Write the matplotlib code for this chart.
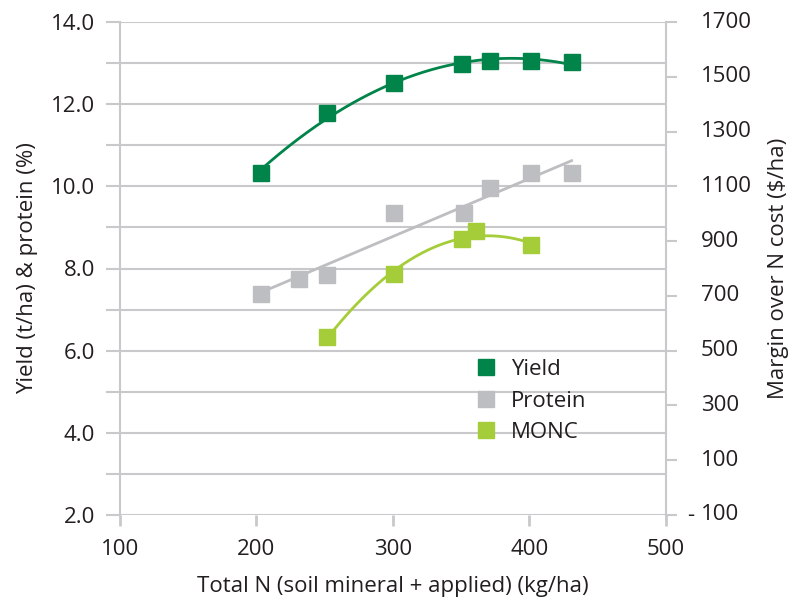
import numpy as np
import matplotlib
matplotlib.use("Agg")
import matplotlib.pyplot as plt
from matplotlib.lines import Line2D
from matplotlib.transforms import blended_transform_factory, ScaledTranslation

plt.rcParams['font.family'] = ['Open Sans', 'DejaVu Sans']

# ---- data ----
yield_n = [203, 252, 301, 351, 371, 401, 431]
yield_t = [10.33, 11.78, 12.51, 12.98, 13.06, 13.06, 13.02]

protein_n = [203, 231, 252, 301, 352, 371, 401, 431]
protein_pct = [7.37, 7.74, 7.83, 9.34, 9.34, 9.95, 10.33, 10.33]

monc_n = [252, 301, 351, 361, 401]
monc_val = [551, 780, 906, 936, 886]

x_ticks = [100, 200, 300, 400, 500]
left_major = [2, 4, 6, 8, 10, 12, 14]
left_minor = [3, 5, 7, 9, 11, 13]
right_ticks = [1700, 1500, 1300, 1100, 900, 700, 500, 300, 100, -100]

C_YIELD = '#00844A'
C_PROT = '#BDBEC1'
C_MONC = '#A5CD39'
C_GRID = '#C9C9CB'
C_TEXT = '#231F20'
FS = 16

fig = plt.figure(figsize=(7.92, 6.02), dpi=100)
ax = fig.add_axes([120/792, 1-515/602, (665.7-120)/792, (515-22)/602])
ax2 = ax.twinx()

ax.set_xlim(100, 500)
ax.set_ylim(2, 14)
ax2.set_ylim(-100, 1700)

# grid
for v in left_major + left_minor:
    ax.axhline(v, color=C_GRID, lw=1.5, zorder=0)

for s in ['top', 'bottom']:
    ax.spines[s].set_visible(False)
    ax2.spines[s].set_visible(False)
ax2.spines['left'].set_visible(False)
ax.spines['right'].set_visible(False)
ax.spines['left'].set_color(C_GRID)
ax.spines['left'].set_linewidth(1.5)
ax.spines['left'].set_bounds(2, 14)
ax2.spines['right'].set_color(C_GRID)
ax2.spines['right'].set_linewidth(1.5)

ax.set_xticks(x_ticks)
ax.set_xticklabels([str(v) for v in x_ticks])
ax.tick_params(axis='x', length=8, width=2, color=C_GRID, labelsize=FS,
               labelcolor=C_TEXT, pad=9)
ax.set_yticks(left_major)
ax.set_yticklabels([f'{v:.1f}' for v in left_major])
ax.set_yticks(left_minor, minor=True)
ax.tick_params(axis='y', which='both', length=10, width=1.5, color=C_GRID,
               labelsize=FS, labelcolor=C_TEXT, pad=8)

ax2.set_yticks(right_ticks)
ax2.set_yticklabels([])
ax2.tick_params(axis='y', length=8, width=1.5, color=C_GRID)
tr = blended_transform_factory(ax2.transAxes, ax2.transData)
for v in right_ticks:
    off = ScaledTranslation(35/100, 0, fig.dpi_scale_trans)
    ax2.text(1, v, f'{abs(v)}', transform=tr + off, ha='left', va='center',
             fontsize=FS, color=C_TEXT)
    if v < 0:
        off2 = ScaledTranslation(25/100, 0, fig.dpi_scale_trans)
        ax2.text(1, v, '-', transform=tr + off2, ha='center', va='center',
                 fontsize=FS, color=C_TEXT)

# trend lines
xs = np.linspace(min(yield_n), max(yield_n), 200)
p = np.polyfit(yield_n, yield_t, 2)
ax.plot(xs, np.polyval(p, xs), color=C_YIELD, lw=2, zorder=3)

xs = np.linspace(min(protein_n), max(protein_n), 2)
p = np.polyfit(protein_n, protein_pct, 1)
ax.plot(xs, np.polyval(p, xs), color=C_PROT, lw=2, zorder=3)

xs = np.linspace(min(monc_n), max(monc_n), 200)
p = np.polyfit(monc_n, monc_val, 2)
ax2.plot(xs, np.polyval(p, xs), color=C_MONC, lw=2, zorder=3)

ms = 11.5
ax.plot(yield_n, yield_t, 's', color=C_YIELD, ms=ms, zorder=5, clip_on=False)
ax.plot(protein_n, protein_pct, 's', color=C_PROT, ms=ms, zorder=5, clip_on=False)
ax2.plot(monc_n, monc_val, 's', color=C_MONC, ms=ms, zorder=5, clip_on=False)

ax.set_xlabel('Total N (soil mineral + applied) (kg/ha)', fontsize=FS,
              color=C_TEXT, labelpad=12)
ax.set_ylabel('Yield (t/ha) & protein (%)', fontsize=FS, color=C_TEXT, labelpad=9)
ax2.set_ylabel(r'Margin over N cost (\$/ha)', fontsize=FS, color=C_TEXT,
               labelpad=62)

handles = [Line2D([], [], ls='none', marker='s', color=c, ms=12)
           for c in (C_YIELD, C_PROT, C_MONC)]
leg = ax2.legend(handles, ['Yield', 'Protein', 'MONC'], loc='upper left',
                 bbox_to_anchor=(464/792, 1-348/602), bbox_transform=fig.transFigure,
                 frameon=False, fontsize=FS, handlelength=1.0, handletextpad=0.6,
                 labelspacing=0.47, borderpad=0)
for t in leg.get_texts():
    t.set_color(C_TEXT)

fig.savefig('out.png', dpi=100)
